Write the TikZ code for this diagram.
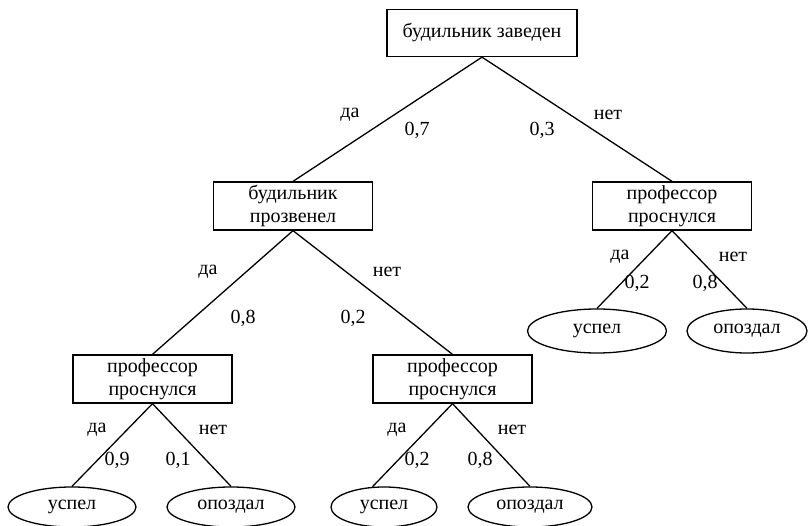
\documentclass[tikz,border=0pt]{standalone}
\usepackage{fontspec}
\setmainfont{Liberation Serif}
\newfontfamily\tnr{Liberation Serif}
\usetikzlibrary{shapes.geometric}
\begin{document}
\begin{tikzpicture}[x=1pt,y=-1pt,
  box/.style={draw, line width=1.3pt, minimum width=159pt, minimum height=48pt, align=center, inner sep=0pt, font=\tnr\fontsize{20}{23}\selectfont},
  leaf/.style={draw, ellipse, line width=1.3pt, inner sep=0pt, font=\tnr\fontsize{20}{23}\selectfont},
  edge/.style={line width=1.3pt},
  lab/.style={inner sep=0pt, font=\tnr\fontsize{20}{22}\selectfont}]
\useasboundingbox (0,0) rectangle (809,526);
% boxes
\node[box, minimum width=190pt, minimum height=47pt] (top) at (482,33) {будильник заведен};
\node[box] (b1) at (293,206) {будильник\\прозвенел};
\node[box] (p0) at (672,206) {профессор\\проснулся};
\node[box] (p1) at (152.5,379) {профессор\\проснулся};
\node[box] (p2) at (452.5,379) {профессор\\проснулся};
% leaves
\node[leaf, minimum width=128pt, minimum height=40pt] (u1) at (72,507) {успел};
\node[leaf, minimum width=128pt, minimum height=40pt] (o1) at (231,507) {опоздал};
\node[leaf, minimum width=106pt, minimum height=40pt] (u2) at (384,507) {успел};
\node[leaf, minimum width=124pt, minimum height=40pt] (o2) at (530,507) {опоздал};
\node[leaf, minimum width=139pt, minimum height=44pt] (u3) at (597,331) {успел};
\node[leaf, minimum width=120pt, minimum height=44pt] (o3) at (747,331) {опоздал};
% edges
\draw[edge] (top.south) -- (b1.north);
\draw[edge] (top.south) -- (p0.north);
\draw[edge] (b1.south) -- (p1.north);
\draw[edge] (b1.south) -- (p2.north);
\draw[edge] (p0.south) -- (u3.north);
\draw[edge] (p0.south) -- (o3.north);
\draw[edge] (p1.south) -- (u1.north);
\draw[edge] (p1.south) -- (o1.north);
\draw[edge] (p2.south) -- (u2.120);
\draw[edge] (p2.south) -- (o2.north);
% labels
\node[lab] (l1) at (350,115) {да};
\node[lab] (l2) at (417,130) {0,7};
\node[lab] (l3) at (542,130) {0,3};
\node[lab] (l4) at (608,115) {нет};
\node[lab] (l5) at (208,272) {да};
\node[lab] (l6) at (387,272) {нет};
\node[lab] (l7) at (243,318) {0,8};
\node[lab] (l8) at (353,318) {0,2};
\node[lab] (l9) at (620,257) {да};
\node[lab] (l10) at (733,257) {нет};
\node[lab] (l11) at (637,283) {0,2};
\node[lab] (l12) at (705,283) {0,8};
\node[lab] (l13) at (97,430) {да};
\node[lab] (l14) at (213,430) {нет};
\node[lab] (l15) at (117,460) {0,9};
\node[lab] (l16) at (178,460) {0,1};
\node[lab] (l17) at (397,430) {да};
\node[lab] (l18) at (512,430) {нет};
\node[lab] (l19) at (417,460) {0,2};
\node[lab] (l20) at (480,460) {0,8};
\end{tikzpicture}
\end{document}
